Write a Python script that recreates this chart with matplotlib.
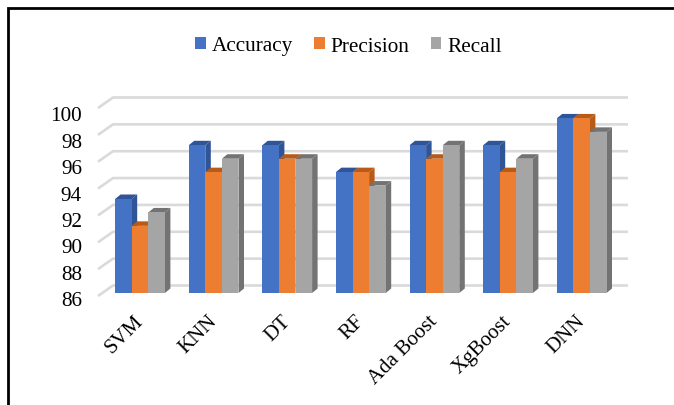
import matplotlib
matplotlib.use("Agg")
import matplotlib.pyplot as plt
from matplotlib.patches import Polygon, Patch, Rectangle
from matplotlib.transforms import ScaledTranslation

categories = ["SVM", "KNN", "DT", "RF", "Ada Boost", "XgBoost", "DNN"]
accuracy = [93, 97, 97, 95, 97, 97, 99]
precision = [91, 95, 96, 95, 96, 95, 99]
recall = [92, 96, 96, 94, 97, 96, 98]
y_ticks = [86, 88, 90, 92, 94, 96, 98, 100]
series_names = ["Accuracy", "Precision", "Recall"]
front_colors = ["#4472C4", "#ED7D31", "#A5A5A5"]
dark_colors = ["#2F5597", "#B85A18", "#737373"]

plt.rcParams["font.family"] = ["Liberation Serif", "DejaVu Serif"]
W, H = 674, 406
fig = plt.figure(figsize=(W / 100, H / 100), dpi=100)

# axes box in pixels
x_left, x_right, y_bottom, y_top = 100, 640, 294, 106
ax = fig.add_axes([x_left / W, 1 - y_bottom / H, (x_right - x_left) / W, (y_bottom - y_top) / H])
px_x = 73.6
px_y = (y_bottom - y_top) / 14
first = 140
ax.set_xlim((x_left - first) / px_x, (x_right - first) / px_x)
ax.set_ylim(86, 100)
for s in ax.spines.values():
    s.set_visible(False)
ax.patch.set_alpha(0)


def X(p):
    return (p - first) / px_x


def Yoff(v, p):
    return v + p / px_y


# back wall gridlines with slanted side stubs
for v in y_ticks:
    xs = [X(98), X(113), X(628)]
    ys = [Yoff(v, -3), Yoff(v, 7.5), Yoff(v, 7.5)]
    ax.plot(xs, ys, color="#DADADA", lw=1.9, clip_on=False, zorder=1, solid_capstyle="butt")

bw = 16.6 / px_x
dx = 5.5 / px_x
dy = 4.5 / px_y
for i in range(len(categories)):
    for j, vals in enumerate([accuracy, precision, recall]):
        v = vals[i]
        x0 = i + (j - 1.5) * bw
        x1 = x0 + bw
        z = 3 + j * 0.1
        ax.add_patch(Polygon([(x1, 86), (x1 + dx, 86 + dy), (x1 + dx, v + dy), (x1, v)],
                             fc=dark_colors[j], ec="none", clip_on=False, zorder=z))
        ax.add_patch(Polygon([(x0, v), (x0 + dx, v + dy), (x1 + dx, v + dy), (x1, v)],
                             fc=dark_colors[j], ec="none", clip_on=False, zorder=z))
        ax.bar(x0, v - 86, bw, bottom=86, align="edge", color=front_colors[j], zorder=z + 0.01, clip_on=False)

ax.set_xticks(range(len(categories)))
ax.set_xticklabels(categories, rotation=45, ha="right", rotation_mode="anchor", fontsize=15)
ax.set_yticks(y_ticks)
ax.set_yticklabels([str(v) for v in y_ticks], fontsize=15.3)
ax.tick_params(length=0, axis="both")
ax.tick_params(axis="x", pad=13)
ax.tick_params(axis="y", pad=13)
# front-plane labels sit lower than the bar plane, more so towards the top
for v, lb in zip(y_ticks, ax.get_yticklabels()):
    shift = 5.0 + (v - 86) / 14 * 3.5
    lb.set_transform(lb.get_transform() + ScaledTranslation(0, -shift / 100, fig.dpi_scale_trans))
for lb in ax.get_xticklabels():
    lb.set_transform(lb.get_transform() + ScaledTranslation(-6 / 100, 0, fig.dpi_scale_trans))

handles = [Patch(fc=c, ec="none") for c in front_colors]
fig.legend(handles, series_names, loc="center", bbox_to_anchor=(348.5 / W, 1 - 47 / H), ncol=3, frameon=False,
           fontsize=15.3, handlelength=0.49, handleheight=0.49, handletextpad=0.28, columnspacing=1.0)

# outer frame (top and left edges only are visible)
fig.add_artist(Rectangle((7.5 / W, -0.1), 1.2, 1.1 - 8.5 / H, transform=fig.transFigure, fc="none", ec="black", lw=2))

fig.savefig("out.png", dpi=100)
